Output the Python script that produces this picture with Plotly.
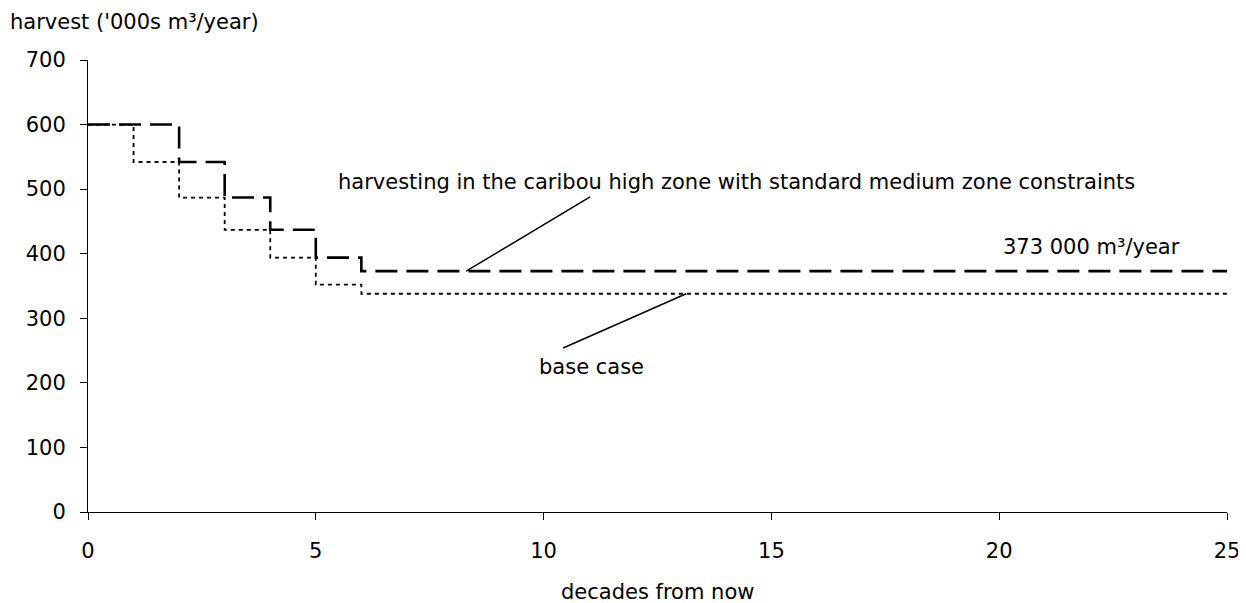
import plotly.graph_objects as go

# Data
caribou_x = [0, 2, 3, 4, 5, 6, 25]
caribou_y = [600, 542, 487, 437, 394, 373, 373]
base_x = [0, 1, 2, 3, 4, 5, 6, 25]
base_y = [600, 542, 487, 437, 394, 352, 338, 338]

x_ticks = [0, 5, 10, 15, 20, 25]
y_ticks = [0, 100, 200, 300, 400, 500, 600, 700]

# annotation leader lines (data coords)
caribou_leader = [(8.3, 373), (11.02, 488)]
base_leader = [(13.13, 338), (10.43, 254)]

FONT = "DejaVu Sans, Arial, sans-serif"
FS = 21

fig = go.Figure()
fig.add_trace(go.Scatter(x=caribou_x, y=caribou_y, mode="lines", line_shape="hv",
                         line=dict(color="black", width=2.6, dash="22px,9px"),
                         showlegend=False))
fig.add_trace(go.Scatter(x=base_x, y=base_y, mode="lines", line_shape="hv",
                         line=dict(color="black", width=1.8, dash="4px,4px"),
                         showlegend=False))

for (x0, y0), (x1, y1) in [caribou_leader, base_leader]:
    fig.add_shape(type="line", x0=x0, y0=y0, x1=x1, y1=y1, xref="x", yref="y",
                  line=dict(color="black", width=1.5))

fig.add_annotation(x=14.23, y=511, xref="x", yref="y", showarrow=False,
                   text="harvesting in the caribou high zone with standard medium zone constraints",
                   font=dict(size=FS, color="black", family=FONT))
fig.add_annotation(x=11.06, y=224, xref="x", yref="y", showarrow=False,
                   text="base case", font=dict(size=FS, color="black", family=FONT))
fig.add_annotation(x=22.03, y=410, xref="x", yref="y", showarrow=False,
                   text="373 000 m³/year", font=dict(size=FS, color="black", family=FONT))
fig.add_annotation(x=0, y=1, xref="paper", yref="paper", xanchor="left", yanchor="middle",
                   xshift=-80, yshift=38, showarrow=False,
                   text="harvest ('000s m³/year)", font=dict(size=FS, color="black", family=FONT))
fig.add_annotation(x=0.5, y=0, xref="paper", yref="paper", xanchor="center", yanchor="middle",
                   yshift=-80, showarrow=False,
                   text="decades from now", font=dict(size=FS, color="black", family=FONT))

fig.update_layout(
    width=1238, height=595,
    margin=dict(l=80, r=19, t=52, b=91),
    plot_bgcolor="white", paper_bgcolor="white",
    font=dict(family=FONT, size=FS, color="black"),
    xaxis=dict(range=[0, 25], tickvals=x_ticks, showgrid=False, zeroline=False,
               showline=True, linecolor="black", linewidth=1,
               ticks="outside", ticklen=7, tickcolor="black",
               ticklabelstandoff=13, automargin=False, ticklabeloverflow="allow"),
    yaxis=dict(range=[0, 700], tickvals=y_ticks, showgrid=False, zeroline=False,
               showline=True, linecolor="black", linewidth=1,
               ticks="outside", ticklen=7, tickcolor="black",
               ticklabelstandoff=10, automargin=False),
)

fig.write_html("out.html")
